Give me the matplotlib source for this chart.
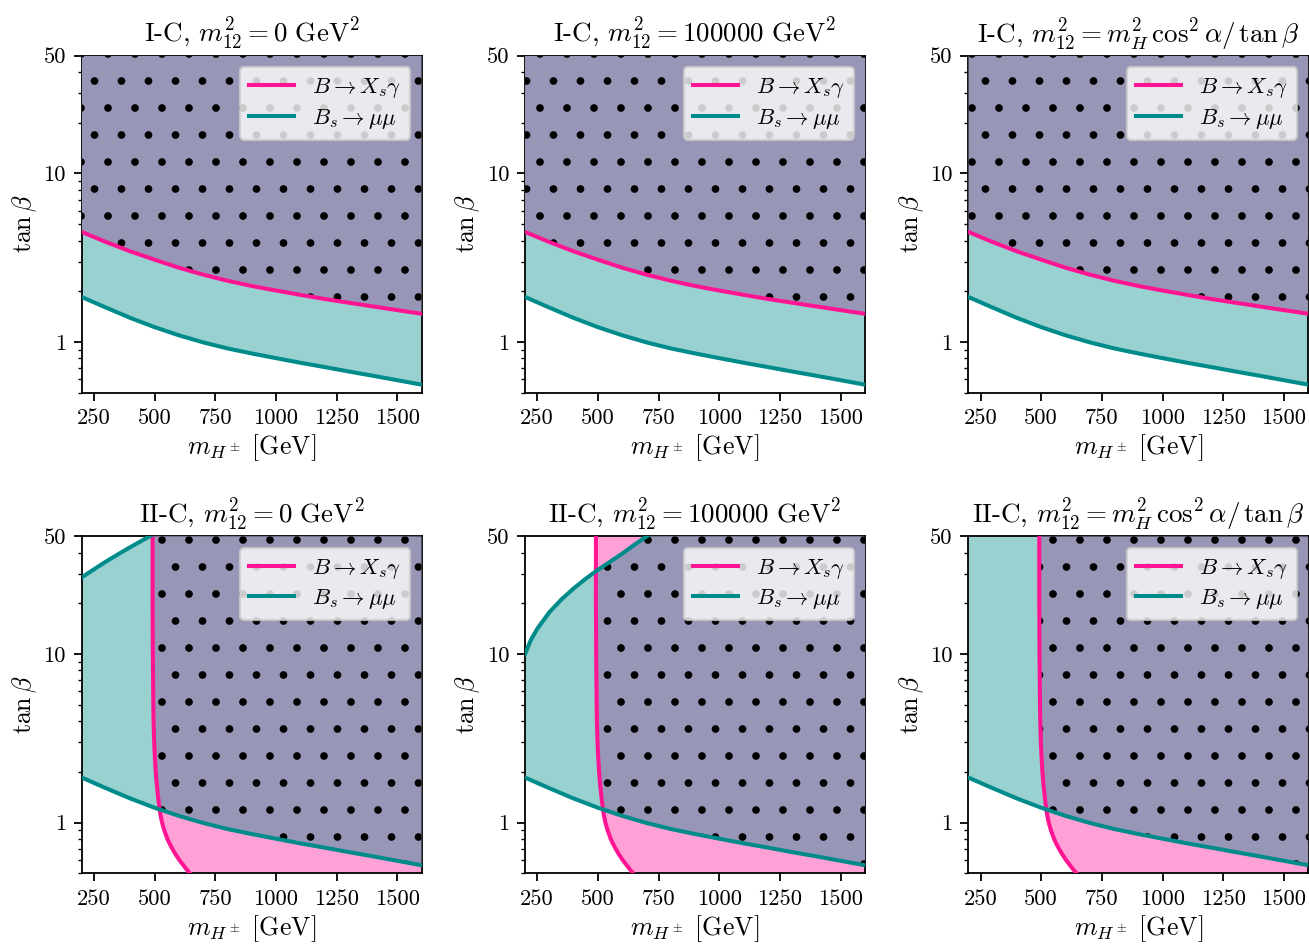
import numpy as np
import matplotlib
matplotlib.use("Agg")
import matplotlib.pyplot as plt
from matplotlib.ticker import NullFormatter

plt.rcParams['font.family'] = 'serif'
plt.rcParams['font.serif'] = ['cmr10', 'DejaVu Serif']
plt.rcParams['mathtext.fontset'] = 'cm'
plt.rcParams['axes.unicode_minus'] = False
plt.rcParams['axes.formatter.use_mathtext'] = True

# charged Higgs mass grid [GeV]
m_grid = [200, 250, 300, 400, 500, 600, 700, 800, 900, 1000, 1100, 1200, 1300, 1400, 1500, 1600]
# Bs -> mu mu lower bound on tan(beta) (same in every panel)
bs_lower = [1.85, 1.72, 1.60, 1.39, 1.225, 1.096, 0.995, 0.916, 0.855, 0.802, 0.753, 0.710, 0.668, 0.630, 0.593, 0.558]
# B -> Xs gamma lower bound on tan(beta), type I-C
bsg_lower_I = [4.50, 4.20, 3.92, 3.45, 3.08, 2.76, 2.51, 2.31, 2.15, 2.02, 1.905, 1.80, 1.71, 1.625, 1.545, 1.47]
# B -> Xs gamma lower bound on m_H+, type II-C (as function of tan beta)
bsg_tanb_II = [0.5, 0.55, 0.6, 0.65, 0.7, 0.75, 0.8, 0.9, 1.0, 1.1, 1.2, 1.4, 1.7, 2, 2.5, 3, 4, 5, 7, 10, 20, 50]
bsg_mass_II = [645, 622, 602, 586, 573, 562, 553, 540, 531, 525, 521, 515, 509, 505, 501, 498.5, 496, 495, 494, 493, 492, 492]
# Bs -> mu mu upper bound on tan(beta), type II-C
bs_upper_m0 = ([200, 250, 300, 350, 400, 450, 500],
               [28.5, 31.8, 35.4, 39.1, 43.1, 47.3, 51.9])
bs_upper_m1e5 = ([200, 225, 250, 300, 350, 400, 450, 500, 550, 600, 650, 700, 750],
                 [10, 12.2, 14.1, 17.7, 21.1, 24.5, 28.0, 31.6, 35.3, 39.4, 44.5, 49.8, 55.5])

titles = [r'I-C, $m_{12}^2 = 0~\mathrm{GeV}^2$',
          r'I-C, $m_{12}^2 = 100000~\mathrm{GeV}^2$',
          r'I-C, $m_{12}^2 = m_H^2\,\cos^2\alpha/\,\tan\beta$',
          r'II-C, $m_{12}^2 = 0~\mathrm{GeV}^2$',
          r'II-C, $m_{12}^2 = 100000~\mathrm{GeV}^2$',
          r'II-C, $m_{12}^2 = m_H^2\,\cos^2\alpha/\,\tan\beta$']
uppers = [None, None, None, bs_upper_m0, bs_upper_m1e5, None]

xmin, xmax = 200, 1600
ymin, ymax = 0.5, 50

pink = '#FF1493'
teal = '#008B8B'
pink_fill = '#FFA1D6'
teal_fill = '#99D1D1'
purple = '#9896B6'

fig, axes = plt.subplots(2, 3, figsize=(1309 / 162, 944 / 162), dpi=162)
fig.subplots_adjust(left=0.0624, right=0.9995, top=0.941, bottom=0.0749,
                    wspace=0.304, hspace=0.426)

for i, ax in enumerate(axes.flat):
    typeII = i >= 3
    up = uppers[i]

    # region allowed by Bs -> mu mu
    bx = list(m_grid) + [xmax]
    by = list(bs_lower) + [ymax]
    if up is None:
        bx += [xmin]
        by += [ymax]
    else:
        bx += up[0][::-1]
        by += up[1][::-1]

    # region allowed by B -> Xs gamma
    if typeII:
        gx = list(bsg_mass_II) + [xmax, xmax]
        gy = list(bsg_tanb_II) + [ymax, ymin]
    else:
        gx = list(m_grid) + [xmax, xmin]
        gy = list(bsg_lower_I) + [ymax, ymax]

    g_patch = ax.fill(gx, gy, color=pink_fill, lw=0, zorder=1)[0]
    ax.fill(bx, by, color=teal_fill, lw=0, zorder=2)
    # both allowed: purple with dots
    both = ax.fill(bx, by, facecolor=purple, edgecolor='k', lw=0,
                   hatch='.', zorder=3)[0]
    both.set_clip_path(g_patch)

    if typeII:
        ax.plot(bsg_mass_II, bsg_tanb_II, color=pink, lw=1.8, zorder=4,
                label=r'$B \to X_s\gamma$')
    else:
        ax.plot(m_grid, bsg_lower_I, color=pink, lw=1.8, zorder=4,
                label=r'$B \to X_s\gamma$')
    ax.plot(m_grid, bs_lower, color=teal, lw=1.8, zorder=4,
            label=r'$B_s \to \mu\mu$')
    if up is not None:
        ax.plot(up[0], up[1], color=teal, lw=1.8, zorder=4)

    ax.set_yscale('log')
    ax.set_xlim(xmin, xmax)
    ax.set_ylim(ymin, ymax)
    ax.set_xticks([250, 500, 750, 1000, 1250, 1500])
    ax.set_xticklabels(['250', '500', '750', '1000', '1250', '1500'])
    ax.set_yticks([1, 10, 50])
    ax.set_yticklabels(['1', '10', '50'])
    ax.yaxis.set_minor_formatter(NullFormatter())
    ax.set_xlabel(r'$m_{H^\pm}\ [\mathrm{GeV}]$', fontsize=11.5, labelpad=2)
    ax.set_ylabel(r'$\tan\beta$', fontsize=11.5, labelpad=2)
    ax.set_title(titles[i])
    ax.legend(loc='upper right', labelspacing=0.3)

fig.savefig('out.png', dpi=162)
